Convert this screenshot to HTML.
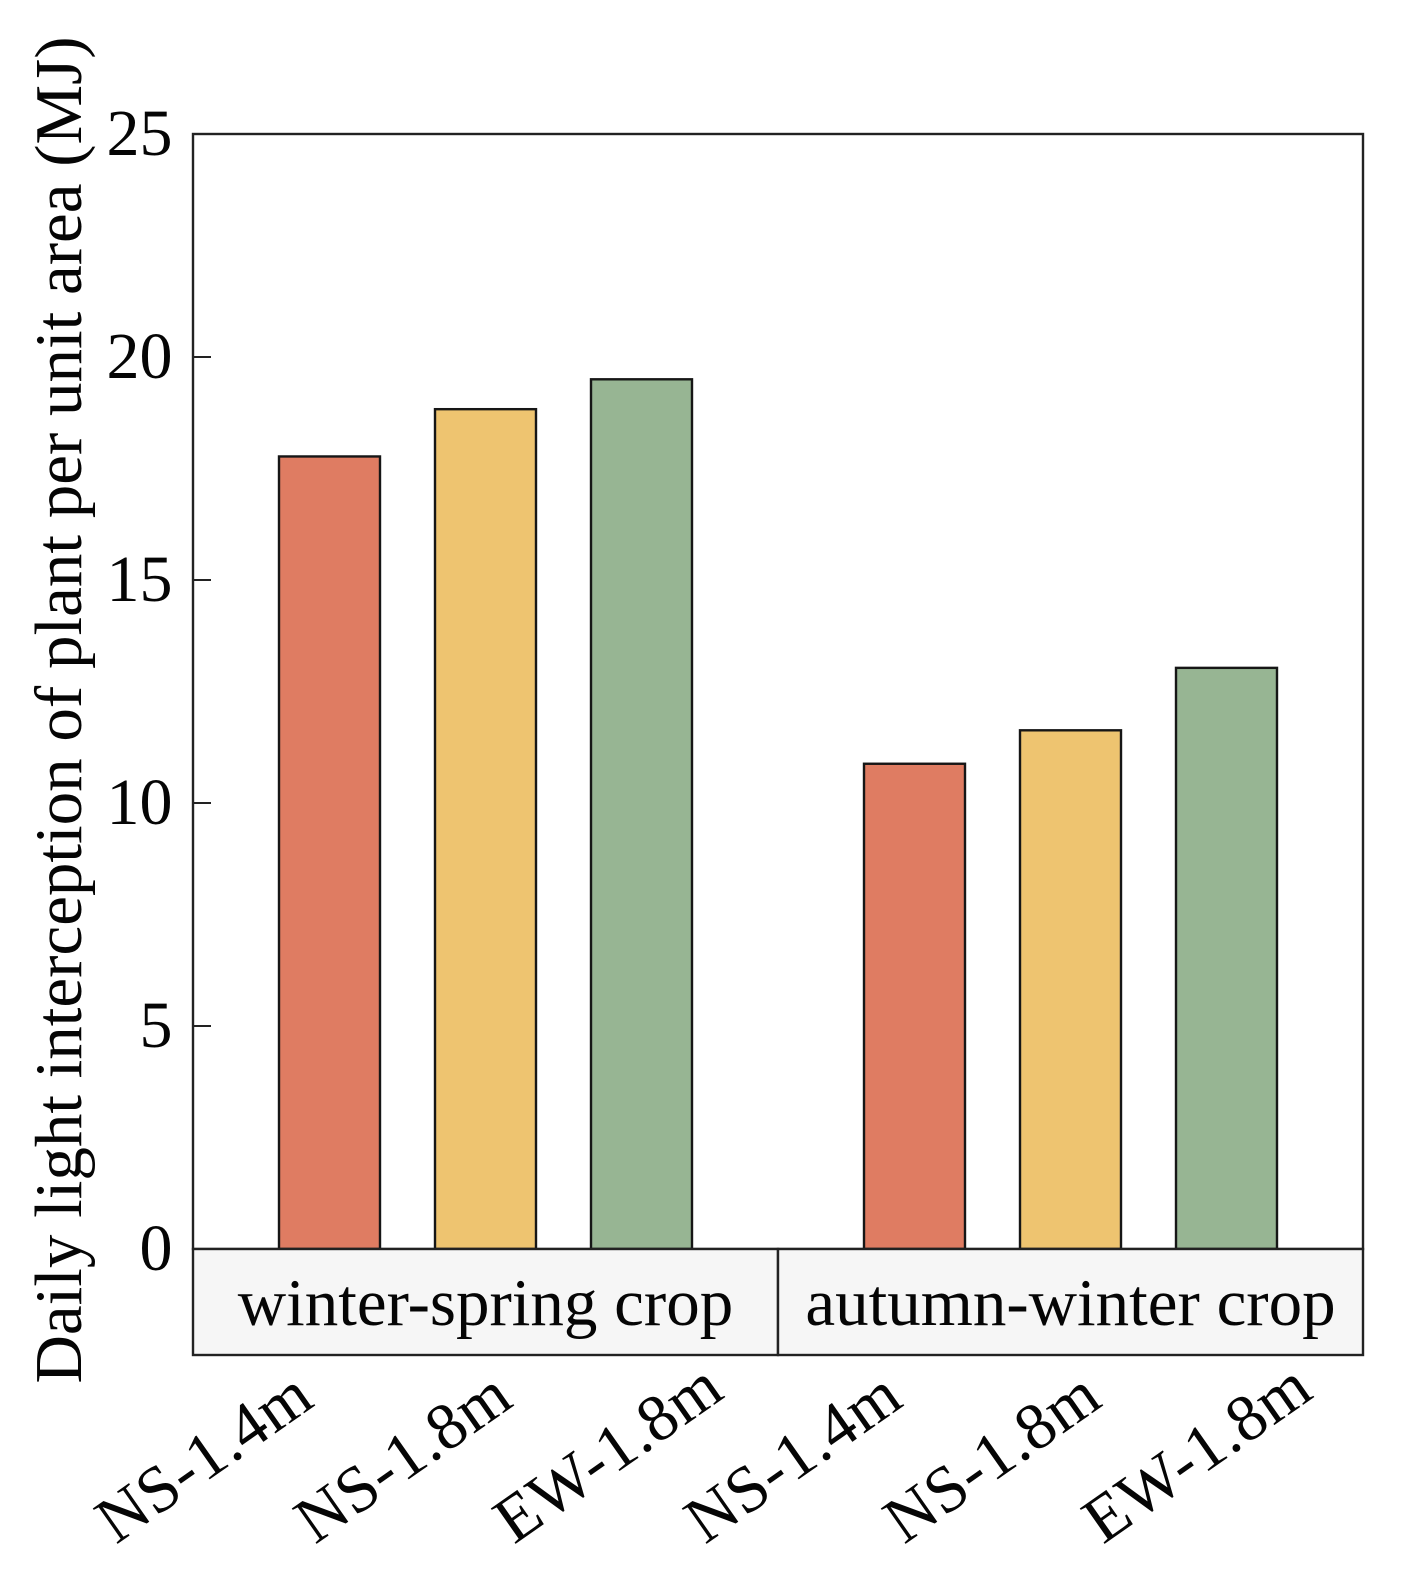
<!DOCTYPE html>
<html>
<head>
<meta charset="utf-8">
<style>
html,body{margin:0;padding:0;background:#fff;}
svg{display:block;}
text{font-family:"Liberation Serif",serif;fill:#050505;}
</style>
</head>
<body>
<svg id="chart" width="1414" height="1583" viewBox="0 0 1414 1583" xmlns="http://www.w3.org/2000/svg"></svg>
<script>
const panels = ["winter-spring crop", "autumn-winter crop"];
const categories = ["NS-1.4m", "NS-1.8m", "EW-1.8m"];
const winterSpringValues = [17.77, 18.83, 19.5];
const autumnWinterValues = [10.88, 11.63, 13.03];
const yTicks = [0, 5, 10, 15, 20, 25];
const barColors = ["#df7c62", "#eec470", "#97b593"];
const yTitle = "Daily light interception of plant per unit area (MJ)";

const NS = "http://www.w3.org/2000/svg";
const svg = document.getElementById("chart");
const plotL = 193, plotR = 1363, plotT = 134, plotB = 1249, stripB = 1355;
const yMax = 25;
function yScale(v){ return plotB - (v / yMax) * (plotB - plotT); }
function panelX(p){ return plotL + p * (plotR - plotL) / panels.length; }
function barCenter(p, i){ return panelX(p) + 136.5 + i * 156; }
function labelStart(p, i){ return 116 + i * 199 + p * 589; }
const barW = 101;

function add(tag, attrs, text){
  const el = document.createElementNS(NS, tag);
  for (const k in attrs) el.setAttribute(k, attrs[k]);
  if (text !== undefined) el.textContent = text;
  svg.appendChild(el);
  return el;
}

// plot background
const bg = add("rect", {x:plotL, y:plotT, width:plotR-plotL, height:plotB-plotT, fill:"#fff"});



// y tick marks (drawn inward, behind the bars)
yTicks.forEach(v => {
  const m = add("line", {x1:plotL, x2:plotL+18, y1:yScale(v), y2:yScale(v), stroke:"#222", "stroke-width":2});
  
  
});

// bars
[winterSpringValues, autumnWinterValues].forEach((vals, p) => {
  vals.forEach((v, i) => {
    const y = yScale(v);
    const r = add("rect", {x:barCenter(p,i)-barW/2, y:y, width:barW, height:plotB-y, fill:barColors[i], stroke:"#161616", "stroke-width":2.4});
    
    
  });
});

// frame
const frame = add("rect", {x:plotL, y:plotT, width:plotR-plotL, height:plotB-plotT, fill:"none", stroke:"#222", "stroke-width":2.4});



// strips
panels.forEach((label, p) => {
  const x0 = panelX(p), x1 = panelX(p+1);
  const s = add("rect", {x:x0, y:plotB, width:x1-x0, height:stripB-plotB, fill:"#f6f6f6", stroke:"#222", "stroke-width":2.4});
  
  
  const t = add("text", {x:(x0+x1)/2, y:1325, "font-size":67, "text-anchor":"middle"}, label);
  
  
});

// y tick labels
yTicks.forEach(v => {
  const t = add("text", {x:172.5, y:yScale(v)+21, "font-size":66, "text-anchor":"end"}, String(v));
  
  
});

// x labels
panels.forEach((_, p) => {
  categories.forEach((c, i) => {
    const sx = labelStart(p, i), sy = 1545;
    const t = add("text", {x:sx, y:sy, "font-size":66, "letter-spacing":0.7, "text-anchor":"start", transform:`rotate(-35 ${sx} ${sy})`}, c);
    
    
  });
});

// y title
const yt = add("text", {x:0, y:0, "font-size":67, "text-anchor":"middle", transform:"translate(81 710) rotate(-90)"}, yTitle);


</script>
</body>
</html>
